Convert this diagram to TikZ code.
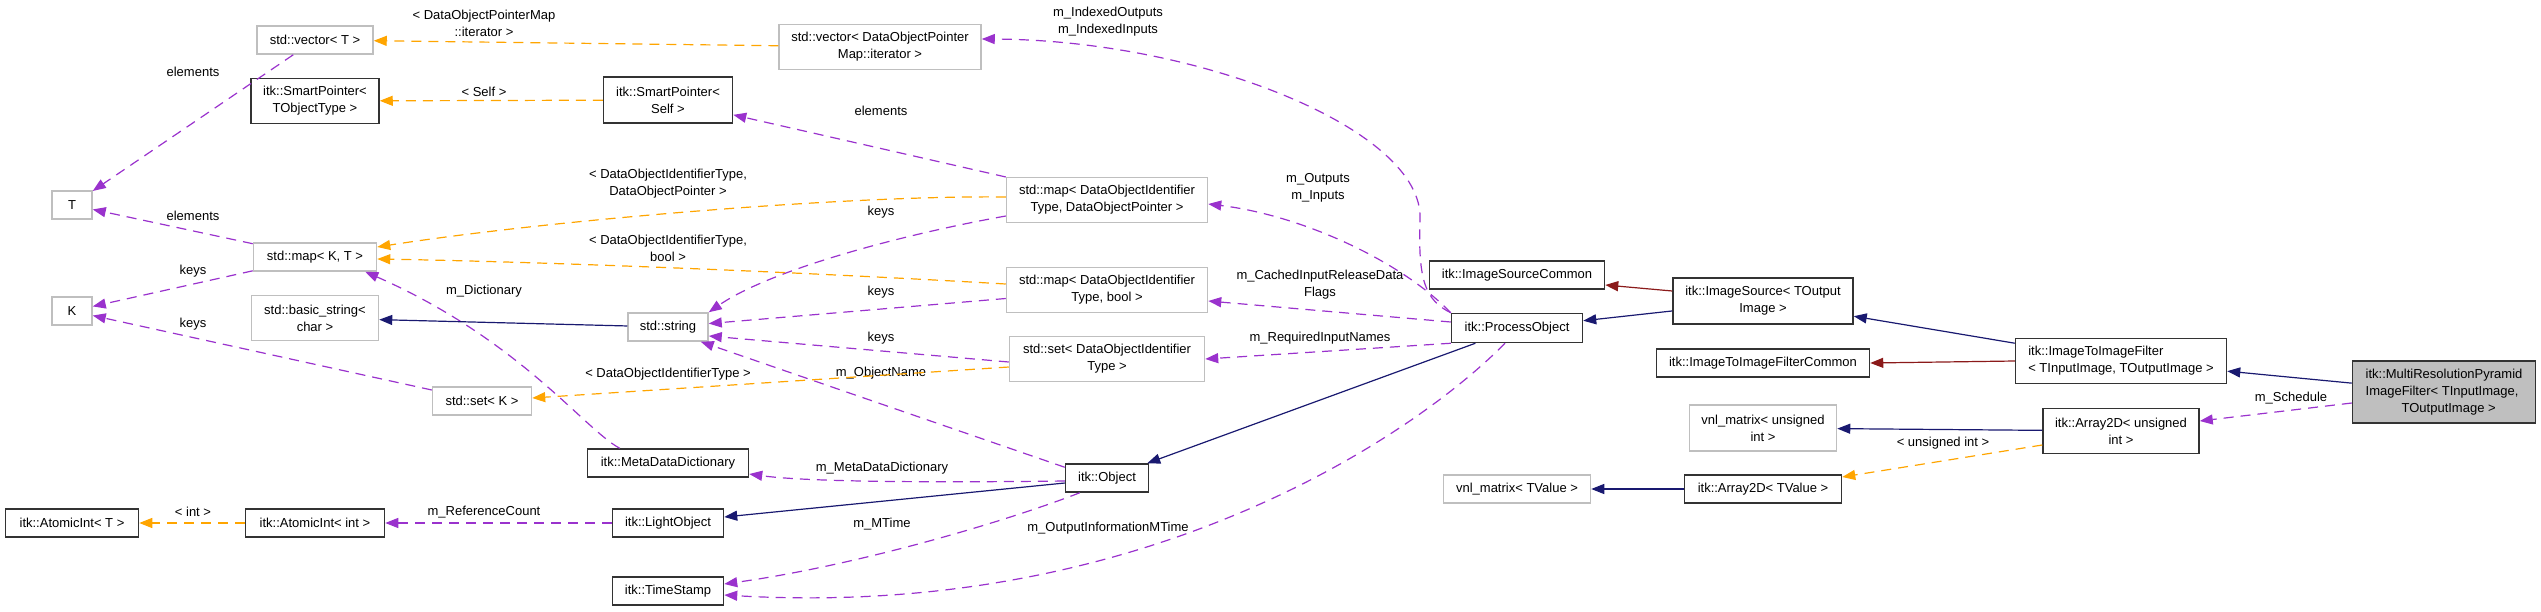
\documentclass[tikz,border=0pt]{standalone}
\usepackage{fontspec}
\setmainfont{Liberation Sans}
\usetikzlibrary{arrows.meta}
\definecolor{usecol}{RGB}{154,50,205}
\definecolor{tmplcol}{RGB}{255,165,0}
\definecolor{inhcol}{RGB}{25,25,112}
\definecolor{protcol}{RGB}{139,26,26}
\definecolor{extcol}{RGB}{191,191,191}
\begin{document}
\begin{tikzpicture}[x=1pt, y=-1pt,
    cls/.style={rectangle, draw=black!80, line width=1.5pt, fill=white,
      minimum height=28pt, inner sep=0pt, align=center,
      font=\fontsize{13}{17}\selectfont},
    ext/.style={cls, draw=extcol},
    lbl/.style={inner sep=0pt, align=center,
      font=\fontsize{13}{17}\selectfont},
    use/.style={draw=usecol, line width=1.2pt, dash pattern=on 10pt off 7pt,
      -{Triangle[length=13pt,width=10pt]}},
    tmpl/.style={use, draw=tmplcol},
    inh/.style={draw=inhcol, line width=1.2pt,
      -{Triangle[length=13pt,width=10pt]}},
    prot/.style={inh, draw=protcol}
  ]
    \useasboundingbox (0,0) rectangle (2541,611);

    % Klassen
    \node[ext, minimum width=40] (T) at (72,205) {T};
    \node[ext, minimum width=40] (K) at (72,311) {K};
    \node[cls, minimum width=133] (atomT) at (72,523) {itk::AtomicInt< T >};
    \node[ext, minimum width=116] (vecT) at (315,40) {std::vector< T >};
    \node[cls, minimum width=128, minimum height=45] (spObj) at (315,101)
      {itk::SmartPointer<\\ TObjectType >};
    \node[ext, minimum width=123] (mapKT) at (315,257) {std::map< K, T >};
    \node[ext, minimum width=127, minimum height=45] (basic) at (315,318)
      {std::basic\_string<\\ char >};
    \node[cls, minimum width=139] (atomInt) at (315,523) {itk::AtomicInt< int >};
    \node[ext, minimum width=99] (setK) at (482,401) {std::set< K >};
    \node[cls, minimum width=129, minimum height=46] (spSelf) at (668,100)
      {itk::SmartPointer<\\ Self >};
    \node[ext, minimum width=80] (string) at (668,327) {std::string};
    \node[cls, minimum width=161] (mdd) at (668,463) {itk::MetaDataDictionary};
    \node[cls, minimum width=111] (light) at (668,523) {itk::LightObject};
    \node[cls, minimum width=111] (stamp) at (668,591) {itk::TimeStamp};
    \node[ext, minimum width=202, minimum height=45] (vecDOP) at (880,47)
      {std::vector< DataObjectPointer\\ Map::iterator >};
    \node[ext, minimum width=201, minimum height=45] (mapDOP) at (1107,200)
      {std::map< DataObjectIdentifier\\ Type, DataObjectPointer >};
    \node[ext, minimum width=201, minimum height=45] (mapBool) at (1107,290)
      {std::map< DataObjectIdentifier\\ Type, bool >};
    \node[ext, minimum width=195, minimum height=45] (setDOI) at (1107,359)
      {std::set< DataObjectIdentifier\\ Type >};
    \node[cls, minimum width=83] (object) at (1107,478) {itk::Object};
    \node[cls, minimum width=175] (srcCommon) at (1517,275) {itk::ImageSourceCommon};
    \node[cls, minimum width=131, minimum height=29] (process) at (1517,328)
      {itk::ProcessObject};
    \node[ext, minimum width=147] (vnlT) at (1517,489) {vnl\_matrix< TValue >};
    \node[cls, minimum width=180, minimum height=46] (source) at (1763,301)
      {itk::ImageSource< TOutput\\ Image >};
    \node[cls, minimum width=213] (filtCommon) at (1763,363)
      {itk::ImageToImageFilterCommon};
    \node[ext, minimum width=147, minimum height=46] (vnlU) at (1763,428)
      {vnl\_matrix< unsigned\\ int >};
    \node[cls, minimum width=157] (arrT) at (1763,489) {itk::Array2D< TValue >};
    \node[cls, minimum width=211, minimum height=45, align=left] (filter) at (2121,361)
      {itk::ImageToImageFilter\\< TInputImage, TOutputImage >};
    \node[cls, minimum width=156, minimum height=45] (arrU) at (2121,431)
      {itk::Array2D< unsigned\\ int >};
    \node[cls, fill=extcol, minimum width=183, minimum height=62, align=left]
      (pyramid) at (2444,392)
      {itk::MultiResolutionPyramid\\ImageFilter< TInputImage,\\\hspace*{36pt}TOutputImage >};

    % Beschriftungen
    \node[lbl] (lElemVec) at (193,72) {elements};
    \node[lbl] (lElemMap) at (193,216) {elements};
    \node[lbl] (lKeysMap) at (193,271) {keys};
    \node[lbl] (lKeysSet) at (193,324) {keys};
    \node[lbl] (lInt) at (193,512) {< int >};
    \node[lbl] (lIter) at (484,23) {< DataObjectPointerMap\\::iterator >};
    \node[lbl] (lSelf) at (484,92) {< Self >};
    \node[lbl] (lDict) at (484,291) {m\_Dictionary};
    \node[lbl] (lRefCount) at (484,512) {m\_ReferenceCount};
    \node[lbl] (lDoiPtr) at (668,184) {< DataObjectIdentifierType,\\DataObjectPointer >};
    \node[lbl] (lDoiBool) at (668,248) {< DataObjectIdentifierType,\\bool >};
    \node[lbl] (lDoiSet) at (668,374) {< DataObjectIdentifierType >};
    \node[lbl] (lElemDop) at (881,111) {elements};
    \node[lbl] (lKeys1) at (881,212) {keys};
    \node[lbl] (lKeys2) at (881,292) {keys};
    \node[lbl] (lKeys3) at (881,338) {keys};
    \node[lbl] (lName) at (881,373) {m\_ObjectName};
    \node[lbl] (lMeta) at (882,468) {m\_MetaDataDictionary};
    \node[lbl] (lMTime) at (882,524) {m\_MTime};
    \node[lbl] (lIndexed) at (1108,22) {m\_IndexedOutputs\\m\_IndexedInputs};
    \node[lbl] (lOutIn) at (1318,188) {m\_Outputs\\m\_Inputs};
    \node[lbl] (lCached) at (1320,285) {m\_CachedInputReleaseData\\Flags};
    \node[lbl] (lRequired) at (1320,338) {m\_RequiredInputNames};
    \node[lbl] (lOutInfo) at (1108,528) {m\_OutputInformationMTime};
    \node[lbl] (lUInt) at (1943,443) {< unsigned int >};
    \node[lbl] (lSchedule) at (2291,398) {m\_Schedule};

    % Benutzung
    \draw[use] (vecT) -- (T);
    \draw[use] (mapKT) -- (T);
    \draw[use] (mapKT) -- (K);
    \draw[use] (setK) -- (K);
    \draw[use] ([xshift=33pt]mdd.north west) .. controls (585,430) and (520,340)
      .. ([xshift=-12pt]mapKT.south east);
    \draw[use] (light) -- (atomInt);
    \draw[use] (mapDOP) -- (spSelf);
    \draw[use] ([yshift=-16pt]mapDOP.west) .. controls (900,235) and (770,270)
      .. (string.north east);
    \draw[use] (mapBool) -- (string);
    \draw[use] ([yshift=-3pt]setDOI.west) -- ([yshift=-9pt]string.east);
    \draw[use] ([yshift=-4pt]object.north west) -- ([xshift=-8pt]string.south east);
    \draw[use] ([yshift=-3pt]object.west) .. controls (900,483) and (800,481)
      .. ([yshift=-11pt]mdd.east);
    \draw[use] ([xshift=15pt]object.south west) .. controls (1010,520) and (860,565)
      .. ([yshift=7pt]stamp.east);
    \draw[use] (process.north west) .. controls (1425,300) and (1418,280) .. (1420,220)
      .. controls (1425,130) and (1200,40) .. ([yshift=8pt]vecDOP.east);
    \draw[use] (process.north west) .. controls (1400,260) and (1300,215)
      .. ([yshift=-4pt]mapDOP.east);
    \draw[use] ([yshift=6pt]process.west) -- ([yshift=-11pt]mapBool.east);
    \draw[use] (process.south west) -- (setDOI.east);
    \draw[use] ([xshift=-12pt]process.south) .. controls (1420,430) and (1150,620)
      .. ([yshift=-4pt]stamp.east);
    \draw[use] ([yshift=-11pt]pyramid.west) -- ([yshift=10pt]arrU.east);

    % Templates
    \draw[tmpl] (vecDOP) -- (vecT);
    \draw[tmpl] (spSelf) -- (spObj);
    \draw[tmpl] ([yshift=3pt]mapDOP.west) .. controls (850,195) and (550,220)
      .. ([yshift=10pt]mapKT.east);
    \draw[tmpl] ([yshift=6pt]mapBool.west) .. controls (800,272) and (550,262)
      .. ([yshift=-2pt]mapKT.east);
    \draw[tmpl] ([yshift=-8pt]setDOI.west) -- ([yshift=3pt]setK.east);
    \draw[tmpl] (atomInt) -- (atomT);
    \draw[tmpl] ([yshift=-14pt]arrU.west) -- ([yshift=12pt]arrT.east);

    % Vererbung
    \draw[inh] (string) -- (basic);
    \draw[inh] ([yshift=-5pt]object.west) -- ([yshift=6pt]light.east);
    \draw[inh] (process) -- (object);
    \draw[inh] (source) -- (process);
    \draw[inh] (filter) -- (source);
    \draw[inh] (pyramid) -- (filter);
    \draw[inh] (arrU) -- (vnlU);
    \draw[inh] (arrT) -- (vnlT);
    \draw[prot] ([yshift=10pt]source.west) -- ([yshift=-10pt]srcCommon.east);
    \draw[prot] (filter.west) -- (filtCommon.east);
  \end{tikzpicture}
\end{document}
